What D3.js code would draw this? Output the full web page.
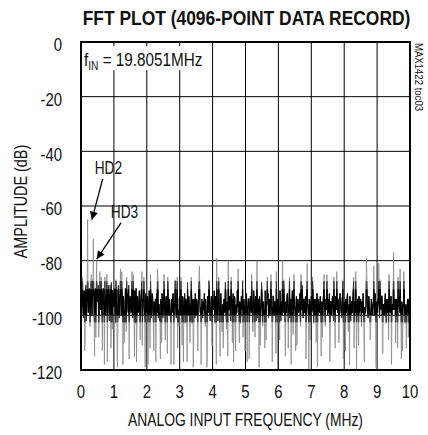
<!DOCTYPE html>
<html><head><meta charset="utf-8">
<script src="https://cdn.jsdelivr.net/npm/d3@7"></script>
<style>
body{margin:0;background:#fff}
text{font-family:"Liberation Sans",Arial,sans-serif;fill:#111}
</style>
</head><body>
<svg id="chart" width="428" height="435"></svg>
<script>
const title = "FFT PLOT (4096-POINT DATA RECORD)";
const xLabel = "ANALOG INPUT FREQUENCY (MHz)";
const yLabel = "AMPLITUDE (dB)";
const sideNote = "MAX1422 toc03";
const xTicks = [0,1,2,3,4,5,6,7,8,9,10];
const yTicks = [0,-20,-40,-60,-80,-100,-120];
const freqStep = 0.025; // MHz between samples
const amplitude = [
-90,-97,-88,-101,-91,-110,-89,-98,-65,-99,
-90,-104,-88,-96,-87,-72,-100,-92,-108,-80,
-95,-89,-102,-84,-98,-91,-113,-90,-97,-86,
-99,-92,-117,-89,-96,-93,-101,-88,-105,-91,
-97,-90,-103,-93,-116,-91,-99,-94,-83,-100,
-92,-118,-95,-98,-90,-106,-93,-97,-89,-102,
-94,-99,-84,-101,-92,-115,-96,-90,-103,-95,
-98,-91,-109,-93,-84,-100,-95,-97,-119,-92,
-99,-94,-102,-91,-112,-96,-98,-93,-104,-95,
-100,-117,-92,-83,-101,-96,-99,-94,-110,-93,
-98,-85,-102,-95,-97,-114,-93,-100,-96,-103,
-94,-99,-92,-118,-97,-95,-101,-86,-98,-104,
-93,-100,-96,-111,-94,-99,-92,-102,-95,-117,
-97,-93,-101,-96,-86,-103,-94,-108,-98,-92,
-100,-95,-113,-93,-82,-99,-118,-94,-101,-96,
-92,-104,-97,-119,-93,-99,-90,-102,-96,-110,
-94,-98,-91,-103,-95,-79,-100,-93,-97,-115,
-92,-101,-96,-112,-94,-99,-91,-105,-95,-80,
-98,-93,-102,-96,-110,-92,-100,-94,-113,-97,
-91,-83,-99,-95,-103,-93,-98,-108,-94,-100,
-96,-92,-117,-97,-94,-101,-93,-99,-95,-106,
-91,-98,-94,-102,-80,-96,-100,-93,-111,-97,
-92,-104,-95,-98,-91,-109,-96,-93,-101,-94,
-99,-85,-97,-103,-93,-100,-95,-114,-98,-120,
-94,-97,-91,-102,-96,-80,-99,-93,-105,-95,
-98,-92,-112,-96,-101,-94,-99,-91,-107,-85,
-97,-113,-93,-100,-95,-98,-92,-104,-96,-89,
-101,-94,-99,-93,-108,-81,-96,-120,-95,-102,
-93,-98,-91,-103,-97,-94,-110,-92,-100,-96,
-99,-93,-115,-95,-101,-92,-97,-104,-94,-85,
-100,-96,-92,-109,-95,-98,-93,-102,-97,-112,
-94,-84,-99,-95,-103,-92,-97,-101,-93,-116,
-96,-100,-94,-98,-92,-106,-97,-93,-102,-95,
-99,-91,-112,-96,-84,-120,-95,-101,-93,-98,
-94,-104,-96,-92,-110,-97,-99,-79,-95,-101,
-93,-98,-108,-94,-100,-96,-82,-99,-92,-119,
-97,-94,-81,-101,-95,-98,-93,-114,-96,-100,
-92,-103,-97,-94,-109,-95,-99,-93,-101,-96,
-77,-98,-94,-102,-95,-112,-97,-93,-83,-100,
-95,-113,-97,-92,-103,-96,-99,-94,-108,-97,
-95
];
// second, interleaved set of samples (half-step offset)
const amplitudeMid = [
-93,-86,-99,-92,-113,-90,-102,-94,-88,-96,
-92,-98,-85,-100,-93,-89,-115,-90,-95,-93,
-91,-108,-93,-97,-86,-101,-92,-96,-118,-100,
-94,-85,-97,-92,-102,-89,-112,-98,-91,-96,
-93,-100,-87,-97,-119,-89,-101,-92,-96,-84,
-99,-93,-110,-103,-94,-86,-92,-99,-116,-93,
-97,-92,-100,-85,-98,-91,-103,-117,-93,-99,
-94,-101,-96,-90,-111,-94,-86,-102,-95,-98,
-93,-118,-95,-98,-85,-101,-92,-97,-113,-100,
-94,-97,-99,-87,-96,-102,-116,-98,-92,-101,
-96,-94,-109,-93,-102,-86,-98,-94,-100,-118,
-98,-93,-101,-95,-87,-99,-92,-112,-102,-94,
-98,-86,-101,-93,-117,-96,-103,-94,-98,-88,
-100,-95,-110,-102,-93,-98,-119,-94,-101,-97,
-94,-99,-96,-85,-95,-97,-107,-100,-95,-98,
-99,-94,-101,-116,-98,-87,-100,-97,-93,-111,
-97,-95,-100,-93,-118,-96,-102,-86,-99,-95,
-98,-106,-100,-95,-97,-88,-101,-96,-115,-94,
-95,-100,-86,-94,-98,-117,-93,-102,-96,-99,
-97,-94,-110,-96,-99,-95,-87,-100,-97,-113,
-99,-95,-97,-94,-116,-96,-98,-85,-101,-96,
-95,-108,-93,-97,-101,-94,-119,-96,-99,-88,
-98,-96,-100,-112,-97,-95,-86,-92,-97,-100,
-94,-98,-117,-93,-99,-95,-101,-84,-94,-97,
-99,-109,-97,-95,-100,-96,-87,-98,-115,-99,
-93,-97,-99,-86,-96,-118,-95,-97,-93,-98,
-100,-95,-111,-94,-99,-96,-101,-85,-98,-94,
-97,-99,-95,-116,-93,-97,-100,-94,-109,-96,
-99,-86,-97,-94,-100,-98,-95,-119,-94,-99,
-95,-98,-96,-108,-94,-85,-99,-95,-98,-96,
-94,-99,-117,-95,-100,-94,-98,-86,-99,-93,
-98,-96,-94,-110,-97,-95,-99,-94,-87,-98,
-95,-113,-99,-94,-98,-96,-118,-100,-96,-99,
-94,-86,-95,-99,-96,-98,-94,-111,-99,-95,
-98,-95,-99,-97,-117,-99,-96,-85,-98,-96,
-97,-109,-99,-96,-98,-95,-100,-94,-119,-95,
-99,-96,-94,-87,-97,-93,-114,-96,-98,-95,
-97,-94,-99,-96,-85,-98,-94,-118,-96,-98,
-95,-97,-110,-94,-98,-86,-95,-99,-97,-116,
-98,-96,-84,-99,-97,-112,-98,-96,-94,-99
];
// annotations: label position and arrow (from -> tip), in data units
const annLabels = ["HD2","HD3"];
const annTextF = [0.83, 1.32];
const annTextDb = [-46.0, -62.1];
const annFromF = [0.66, 1.22];
const annFromDb = [-50.1, -66.1];
const annTipF = [0.33, 0.48];
const annTipDb = [-65, -79.4];
// dense noise-floor bands (where overlapping samples render near-black)
const floorOuter = [-87.5, -102.5];
const floorInner = [-90.5, -100];

const svg = d3.select("#chart");
const M = {left:81, right:410, top:42, bottom:370};
const x = d3.scaleLinear().domain([0,10]).range([M.left, M.right]);
const y = d3.scaleLinear().domain([-120,0]).range([M.bottom, M.top]);

function ntext(px, py, sx, rot) {
  return svg.append("text").attr("transform",`translate(${px},${py})${rot?` rotate(${rot})`:""} scale(${sx},1)`);
}

const defs = svg.append("defs");
defs.append("clipPath").attr("id","plotclip")
  .append("rect").attr("x",M.left).attr("y",M.top).attr("width",M.right-M.left).attr("height",M.bottom-M.top);
defs.append("clipPath").attr("id","outerclip")
  .append("rect").attr("x",M.left).attr("y",y(floorOuter[0])).attr("width",M.right-M.left).attr("height",y(floorOuter[1])-y(floorOuter[0]));
defs.append("clipPath").attr("id","innerclip")
  .append("rect").attr("x",M.left).attr("y",y(floorInner[0])).attr("width",M.right-M.left).attr("height",y(floorInner[1])-y(floorInner[0]));
const mk = defs.append("marker").attr("id","arrow")
  .attr("viewBox","0 0 10 10").attr("refX",10).attr("refY",5)
  .attr("markerWidth",12).attr("markerHeight",8).attr("markerUnits","userSpaceOnUse")
  .attr("orient","auto");
mk.append("path").attr("d","M0,0L10,5L0,10Z").attr("fill","#000");

// grid
const grid = svg.append("g");
grid.selectAll("line.v").data(xTicks.slice(1,-1)).join("line")
  .attr("x1",d=>x(d)).attr("x2",d=>x(d)).attr("y1",M.top).attr("y2",M.bottom)
  .attr("stroke","#000").attr("stroke-width",1);
grid.selectAll("line.h").data(yTicks.slice(1,-1)).join("line")
  .attr("x1",M.left).attr("x2",M.right).attr("y1",d=>y(d)).attr("y2",d=>y(d))
  .attr("stroke","#000").attr("stroke-width",1);

// trace: merge both sample sets in frequency order
const trace = [];
amplitude.forEach((v,i)=>{
  trace.push([i*freqStep, v]);
  if (i < amplitudeMid.length) trace.push([(i+0.5)*freqStep, amplitudeMid[i]]);
});
const line = d3.line().x(d=>x(d[0])).y(d=>y(d[1]));
const d = line(trace);
svg.append("g").attr("clip-path","url(#plotclip)")
  .append("path").attr("d",d)
  .attr("fill","none").attr("stroke","#8a8a8a").attr("stroke-width",0.8);
svg.append("g").attr("clip-path","url(#outerclip)")
  .append("path").attr("d",d)
  .attr("fill","none").attr("stroke","#333").attr("stroke-width",0.9);
svg.append("g").attr("clip-path","url(#innerclip)")
  .append("path").attr("d",d)
  .attr("fill","none").attr("stroke","#000").attr("stroke-width",1.05);

// fIN label with white background
const fin = svg.append("g");
fin.append("rect").attr("x",x(0.06)).attr("y",y(-1.5)).attr("width",x(3.8)-x(0.06)).attr("height",y(-10.3)-y(-1.5)).attr("fill","#fff");
const ft = ntext(x(0.09), y(-8.9), 0.85).attr("font-size",18);
ft.append("tspan").text("f");
ft.append("tspan").attr("font-size",12).attr("dy",4).text("IN");
ft.append("tspan").attr("dy",-4).text(" = 19.8051MHz");

// frame
svg.append("rect").attr("x",M.left).attr("y",M.top).attr("width",M.right-M.left).attr("height",M.bottom-M.top)
  .attr("fill","none").attr("stroke","#000").attr("stroke-width",2);

// annotations
annLabels.forEach((lab,i)=>{
  ntext(x(annTextF[i]), y(annTextDb[i]), 0.76).attr("dy","0.36em")
    .attr("text-anchor","middle").attr("font-size",18).text(lab);
  svg.append("line").attr("x1",x(annFromF[i])).attr("y1",y(annFromDb[i]))
    .attr("x2",x(annTipF[i])).attr("y2",y(annTipDb[i]))
    .attr("stroke","#000").attr("stroke-width",1.3).attr("marker-end","url(#arrow)");
});

// tick labels
xTicks.forEach(v=>{
  ntext(x(v), 391.7, 0.83).attr("dy","0.36em").attr("text-anchor","middle").attr("font-size",18).text(v);
});
yTicks.forEach(v=>{
  ntext(62, y(v)+3, 0.83).attr("dy","0.36em").attr("text-anchor","end").attr("font-size",18).text(v);
});

// titles
ntext(246.5, 25, 0.83).attr("text-anchor","middle")
  .attr("font-size",21).attr("font-weight","bold").text(title);
ntext(245.5, 419.5, 0.77).attr("dy","0.36em").attr("text-anchor","middle")
  .attr("font-size",18).text(xLabel);
ntext(21, 201.5, 0.8, -90).attr("dy","0.36em")
  .attr("text-anchor","middle").attr("font-size",18).text(yLabel);
ntext(419, 43, 0.87, 90).attr("dy","0.36em")
  .attr("text-anchor","start").attr("font-size",11).text(sideNote);
</script>
</body></html>
